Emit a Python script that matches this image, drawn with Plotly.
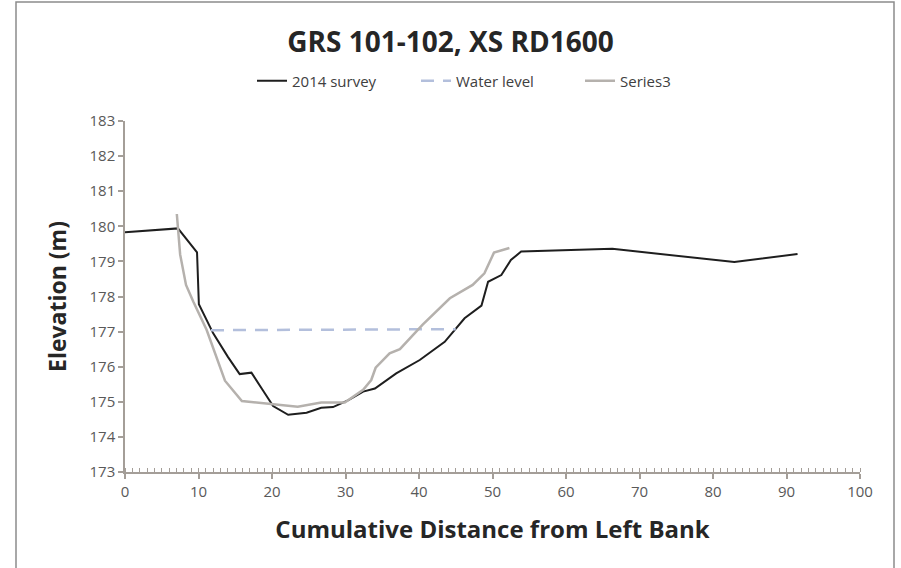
import plotly.graph_objects as go

# 2014 survey
survey_x = [0, 7.2, 9.8, 10.05, 12.0, 14.0, 15.6, 17.2, 18.6, 20.15, 22.2, 24.7, 26.7, 28.3,
            30.4, 32.4, 34.0, 36.9, 40.1, 43.5, 46.2, 48.5, 49.4, 51.2, 52.5, 53.9, 66.3, 82.9, 91.5]
survey_y = [179.83, 179.94, 179.26, 177.78, 176.95, 176.28, 175.79, 175.83, 175.38, 174.88, 174.63, 174.69,
            174.83, 174.85, 175.05, 175.29, 175.38, 175.81, 176.19, 176.71, 177.38, 177.74, 178.42, 178.61,
            179.04, 179.28, 179.36, 178.98, 179.21]

# Water level
water_x = [11.7, 45.0]
water_y = [177.04, 177.07]

# Series3
s3_x = [7.05, 7.5, 8.3, 9.3, 11.1, 13.6, 15.9, 19.9, 23.5, 26.7, 29.9, 32.4, 33.5, 34.1,
        36.0, 37.4, 40.5, 44.2, 47.3, 48.9, 50.2, 52.3]
s3_y = [180.35, 179.2, 178.33, 177.85, 177.05, 175.6, 175.02, 174.93, 174.86, 174.98, 174.98, 175.34,
        175.62, 175.97, 176.38, 176.5, 177.2, 177.95, 178.33, 178.66, 179.25, 179.38]

x_ticks = list(range(0, 101, 10))
y_ticks = list(range(173, 184))

FONT = "Open Sans"
AXIS_COLOR = "#a49e98"
LABEL_COLOR = "#595959"

fig = go.Figure()
fig.add_trace(go.Scatter(x=survey_x, y=survey_y, mode="lines", name="2014 survey",
                         line=dict(color="#1e1e1e", width=2)))
fig.add_trace(go.Scatter(x=water_x, y=water_y, mode="lines", name="Water level",
                         line=dict(color="#b3bfdc", width=2.5, dash="13px,9px")))
fig.add_trace(go.Scatter(x=s3_x, y=s3_y, mode="lines", name="Series3",
                         line=dict(color="#b5b1ad", width=2.5)))

# plot area pixels: x 125..860, y 121..472
L, R, T, B = 125, 901 - 860, 121, 568 - 472
PW, PH = 901 - L - R, 568 - T - B

def px(p):
    return (p - L) / PW

def py(p):
    return (568 - B - p) / PH

fig.update_layout(
    width=901, height=568,
    margin=dict(l=L, r=R, t=T, b=B, autoexpand=False),
    paper_bgcolor="white", plot_bgcolor="white",
    font=dict(family=FONT, color=LABEL_COLOR, size=15),
    title=dict(text="<b>GRS 101-102, XS RD1600</b>", x=0.5, xanchor="center",
               y=1 - 42 / 568, yanchor="middle", yref="container",
               font=dict(family=FONT, size=28, color="#262626")),
    legend=dict(orientation="h", x=px(252), xanchor="left", y=py(81), yanchor="middle",
                font=dict(family=FONT, size=15, color="#404040"), bgcolor="rgba(0,0,0,0)",
                entrywidth=119, entrywidthmode="pixels"),
    xaxis=dict(range=[0, 100], tickvals=x_ticks, showgrid=False, zeroline=False,
               showline=True, linecolor=AXIS_COLOR, linewidth=1.5,
               ticks="outside", ticklen=5, tickcolor=AXIS_COLOR, tickwidth=1.5,
               minor=dict(dtick=1, ticks="inside", ticklen=4, tickcolor=AXIS_COLOR, tickwidth=1),
               tickfont=dict(size=15, color=LABEL_COLOR),
               title=dict(text="<b>Cumulative Distance from Left Bank</b>", standoff=21,
                          font=dict(family=FONT, size=24, color="#262626"))),
    yaxis=dict(range=[173, 183], tickvals=y_ticks, showgrid=False, zeroline=False,
               showline=True, linecolor=AXIS_COLOR, linewidth=1.5,
               ticks="outside", ticklen=5, tickcolor=AXIS_COLOR, tickwidth=1.5,
               tickfont=dict(size=15, color=LABEL_COLOR),
               title=dict(text="<b>Elevation (m)</b>", standoff=16,
                          font=dict(family=FONT, size=23, color="#262626"))),
    xaxis2=dict(overlaying="x", matches="x", range=[0, 100], tickvals=x_ticks, showticklabels=False,
                showgrid=False, zeroline=False, showline=False, ticks="inside", ticklen=5,
                tickcolor=AXIS_COLOR, tickwidth=1.5, anchor="y"),
    yaxis2=dict(overlaying="y", matches="y", range=[173, 183], tickvals=y_ticks, showticklabels=False,
                showgrid=False, zeroline=False, showline=False, ticks="inside", ticklen=5,
                tickcolor=AXIS_COLOR, tickwidth=1.5, anchor="x"),
    shapes=[dict(type="rect", xref="paper", yref="paper",
                 x0=px(16), x1=px(894), y0=py(575), y1=py(2),
                 line=dict(color="#8c8c8c", width=1.5), fillcolor="rgba(0,0,0,0)", layer="below")],
)

fig.write_html("out.html", config={"displayModeBar": False},
               post_script="document.body.style.margin='0';document.body.style.overflow='hidden';")
